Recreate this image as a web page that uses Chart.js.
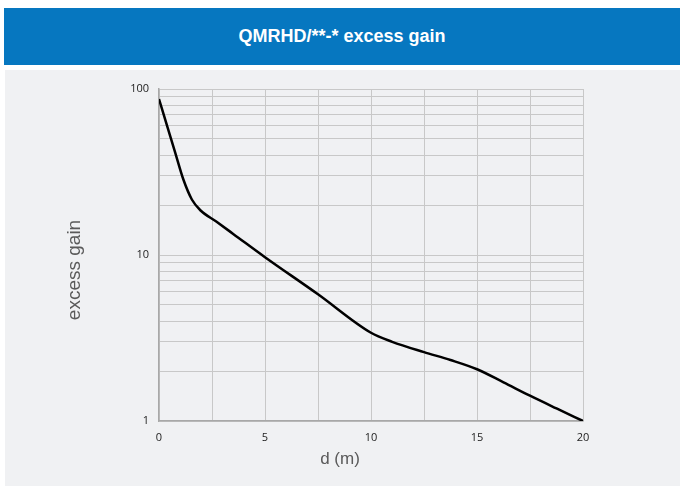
<!DOCTYPE html>
<html>
<head>
<meta charset="utf-8">
<script src="https://cdn.jsdelivr.net/npm/chart.js@4"></script>
<style>
    body { margin: 0; width: 680px; height: 486px; background: #ffffff; position: relative; overflow: hidden; }
    .header {
        position: absolute; left: 4px; top: 8px; width: 676px; height: 57px;
        background: #0677c0; color: #ffffff;
        font-family: "Liberation Sans", Arial, sans-serif; font-size: 18px; font-weight: bold;
        display: flex; align-items: center; justify-content: center;
    }
    .panel { position: absolute; left: 5px; top: 70px; width: 675px; height: 416px; background: #f0f1f3; }
    canvas { position: absolute; left: 0; top: 0; }
</style>
</head>
<body>
<div class="header">QMRHD/**-* excess gain</div>
<div class="panel"><canvas id="gainChart" width="675" height="416"></canvas></div>
<script>
// Curve
const distances = [0, 0.4, 0.75, 1.15, 1.55, 1.95, 2.7, 3.5, 5, 7.5, 10, 11, 12.5, 13.75, 15, 16.25, 17.5, 18.75, 20];
const excessGain = [87, 59, 42, 28.5, 21.6, 18.6, 15.9, 13.4, 9.7, 5.8, 3.4, 3.0, 2.6, 2.33, 2.05, 1.71, 1.42, 1.19, 1];

// Tick positions
const xTicks = [0, 2.5, 5, 7.5, 10, 12.5, 15, 17.5, 20];
const xLabelTicks = [0, 5, 10, 15, 20];
const yTicks = [1, 2, 3, 4, 5, 6, 7, 8, 9, 10, 20, 30, 40, 50, 60, 70, 80, 90, 100];
const yLabelTicks = [1, 10, 100];

const xTitle = 'd (m)';
const yTitle = 'excess gain';

// Axis titles sit off-centre in the original, so draw them here
const axisTitles = {
    id: 'axisTitles',
    afterDraw(chart) {
        const ctx = chart.ctx;
        ctx.save();
        ctx.fillStyle = '#5a5a5a';
        ctx.textAlign = 'center';
        ctx.textBaseline = 'middle';
        ctx.font = '17px "Liberation Sans", Arial, sans-serif';
        ctx.fillText(xTitle, 335, 389);
        ctx.translate(70, 200);
        ctx.rotate(-Math.PI / 2);
        ctx.font = '19px "Liberation Sans", Arial, sans-serif';
        ctx.fillText(yTitle, 0, 0);
        ctx.restore();
    }
};

const gainCtx = document.getElementById('gainChart').getContext('2d');
const gainChart = new Chart(gainCtx, {
    type: 'line',
    data: {
        datasets: [{
            data: distances.map((d, i) => ({ x: d, y: excessGain[i] })),
            borderColor: '#000000',
            borderWidth: 2.5,
            pointRadius: 0,
            cubicInterpolationMode: 'monotone',
            fill: false
        }]
    },
    options: {
        responsive: false,
        animation: false,
        layout: { padding: { top: 19, right: 97, left: 0, bottom: 0 } },
        plugins: { legend: { display: false }, tooltip: { enabled: false } },
        scales: {
            x: {
                type: 'linear',
                min: 0,
                max: 20,
                afterFit: (scale) => { scale.height = 65; },
                afterBuildTicks: (scale) => { scale.ticks = xTicks.map(v => ({ value: v })); },
                ticks: {
                    padding: 10,
                    color: '#222222',
                    font: { family: '"Open Sans", sans-serif', size: 11 },
                    maxRotation: 0,
                    autoSkip: false,
                    callback: (v) => xLabelTicks.includes(v) ? String(v) : ''
                },
                grid: { color: '#c8c8c8', drawTicks: false },
                border: { color: '#a8a8a8', width: 1.5 }
            },
            y: {
                type: 'logarithmic',
                min: 1,
                max: 100,
                afterFit: (scale) => { scale.width = 154; },
                afterBuildTicks: (scale) => { scale.ticks = yTicks.map(v => ({ value: v })); },
                ticks: {
                    padding: 10,
                    color: '#222222',
                    font: { family: '"Open Sans", sans-serif', size: 11 },
                    autoSkip: false,
                    callback: (v) => yLabelTicks.includes(v) ? String(v) : ''
                },
                grid: { color: '#c8c8c8', drawTicks: false },
                border: { color: '#a8a8a8', width: 1.5 }
            }
        }
    },
    plugins: [axisTitles]
});
</script>
</body>
</html>
